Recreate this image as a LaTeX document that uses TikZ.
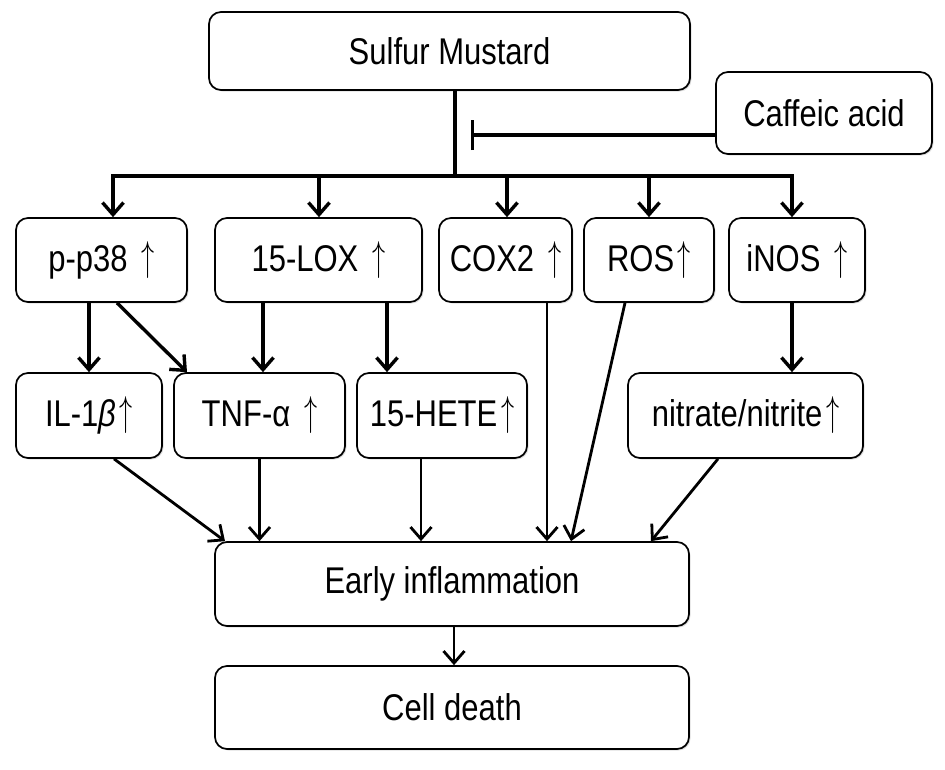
\documentclass[tikz,border=0pt]{standalone}
\usepackage{fontspec}
\setmainfont{Liberation Sans}
\usetikzlibrary{arrows.meta,shadows}
\newcommand\stx[1]{\scalebox{1}[1.2]{#1}}
\newcommand\upa{\raisebox{0.02em}{\scalebox{1.05}[1.4]{\ensuremath{\uparrow}}}}
\newcommand\wsp{\hspace{0.45em}}
\newcommand\nsp{\hspace{0.12em}}
\begin{document}
\begin{tikzpicture}[x=1pt,y=-1pt,
 box/.style={draw, line width=1.7pt, rounded corners=12pt, fill=white,
   drop shadow={shadow xshift=1.5pt, shadow yshift=-1.5pt, opacity=0.25},
   font=\fontsize{31}{37}\selectfont, inner sep=0pt},
 arr/.style={line width=3.4pt, -{Straight Barb[length=12pt,width=21pt]}},
 arrt/.style={line width=2.8pt, -{Straight Barb[length=12pt,width=21pt]}},
 ln/.style={line width=3.4pt}]
\useasboundingbox (0,0) rectangle (945,769);
% boxes
\node[box, minimum width=481pt, minimum height=78pt] (sm) at (449.5,51) {\stx{Sulfur Mustard}};
\node[box, minimum width=216pt, minimum height=82pt] (ca) at (824,113) {\stx{Caffeic acid}};
\node[box, minimum width=171pt, minimum height=84pt] (pp) at (101.5,260) {\stx{p-p38\wsp\upa}};
\node[box, minimum width=207pt, minimum height=84pt] (lox) at (318.5,260) {\stx{15-LOX\wsp\upa}};
\node[box, minimum width=133pt, minimum height=84pt] (cox) at (505.5,260) {\stx{COX2\wsp\upa}};
\node[box, minimum width=130pt, minimum height=84pt] (ros) at (649,260) {\stx{ROS\nsp\upa}};
\node[box, minimum width=136pt, minimum height=84pt] (inos) at (797,260) {\stx{iNOS\wsp\upa}};
\node[box, minimum width=146pt, minimum height=85pt] (il) at (89,415.5) {\stx{IL-1\textit{β}\nsp\upa}};
\node[box, minimum width=171pt, minimum height=85pt] (tnf) at (259.5,415.5) {\stx{TNF-α\wsp\upa}};
\node[box, minimum width=170pt, minimum height=85pt] (hete) at (442,415.5) {\stx{15-HETE\nsp\upa}};
\node[box, minimum width=235pt, minimum height=85pt] (nit) at (745.5,415.5) {\stx{nitrate/nitrite\nsp\upa}};
\node[box, minimum width=474pt, minimum height=84pt] (early) at (452,584) {\stx{Early inflammation}};
\node[box, minimum width=474pt, minimum height=83pt] (death) at (452,707.5) {\stx{Cell death}};
% distributor
\coordinate (j) at (455,176);
\coordinate (b1) at (113,176);
\coordinate (b2) at (319,176);
\coordinate (b3) at (507,176);
\coordinate (b4) at (649,176);
\coordinate (b5) at (792,176);
\coordinate (tb) at (471,135);
\draw[ln] (sm.south -| j) -- (j);
\draw[ln] ([xshift=-1.7pt]b1) -- ([xshift=1.7pt]b5);
\draw[arr] (b1) -- (b1 |- pp.north);
\draw[arr] (b2) -- (b2 |- lox.north);
\draw[arr] (b3) -- (b3 |- cox.north);
\draw[arr] (b4) -- (b4 |- ros.north);
\draw[arr] (b5) -- (b5 |- inos.north);
\draw[line width=3.4pt, -{Bar[width=30pt,line width=3.4pt]}] (ca.west |- tb) -- (tb);
% row 1 -> row 2
\draw[arr] ([xshift=-12.5pt]pp.south) -- ([xshift=0pt]il.north);
\draw[arr] ([xshift=15.5pt]pp.south) -- ([xshift=-72.5pt]tnf.north);
\draw[arr] ([xshift=-55.5pt]lox.south) -- ([xshift=3.5pt]tnf.north);
\draw[arr] ([xshift=68.5pt]lox.south) -- ([xshift=-55pt]hete.north);
\draw[arr] ([xshift=-5pt]inos.south) -- ([xshift=46.5pt]nit.north);
% -> early inflammation
\draw[arrt] ([xshift=25pt]il.south) -- ([xshift=-227pt]early.north);
\draw[arrt] (tnf.south) -- ([xshift=-192.5pt]early.north);
\draw[arrt] ([xshift=-21pt]hete.south) -- ([xshift=-31pt]early.north);
\draw[arrt] ([xshift=41.5pt]cox.south) -- ([xshift=95pt]early.north);
\draw[arrt] ([xshift=-24pt]ros.south) -- ([xshift=119pt]early.north);
\draw[arrt] ([xshift=-27.5pt]nit.south) -- ([xshift=199pt]early.north);
\draw[arrt] ([xshift=2pt]early.south) -- ([xshift=2pt]death.north);
\end{tikzpicture}
\end{document}
